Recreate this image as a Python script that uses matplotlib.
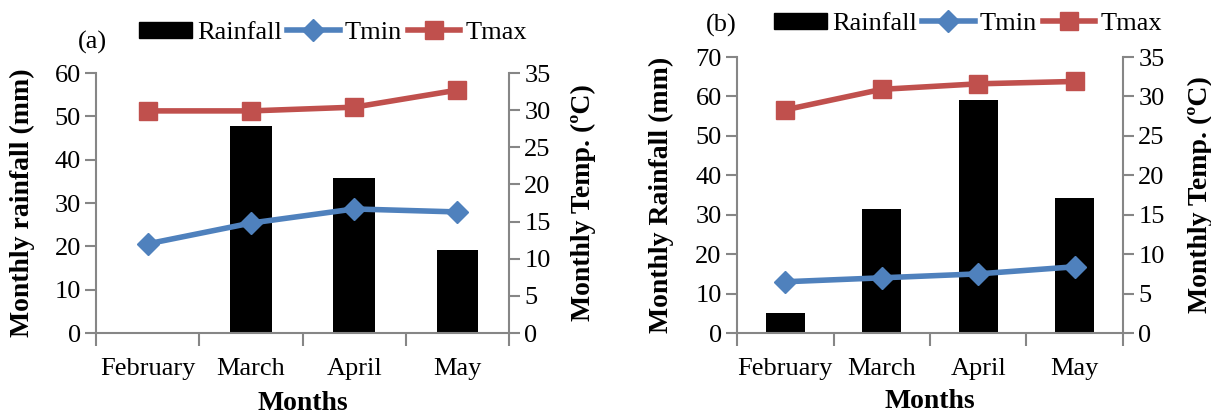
import matplotlib.pyplot as plt
import numpy as np
from matplotlib.lines import Line2D
from matplotlib.patches import Patch

plt.rcParams['font.family'] = 'Liberation Serif'

months = ["February", "March", "April", "May"]

# panel (a)
rain_a = [0, 47.7, 35.8, 19.1]
tmin_a = [12.0, 14.8, 16.7, 16.3]
tmax_a = [29.9, 29.9, 30.4, 32.7]

# panel (b)
rain_b = [5.2, 31.5, 59.0, 34.3]
tmin_b = [6.5, 7.0, 7.5, 8.4]
tmax_b = [28.3, 30.9, 31.6, 31.9]

GRAY = '#868686'
BLUE = '#4F81BD'
RED = '#C0504D'
FS = 19

fig = plt.figure(figsize=(12.11, 4.17), dpi=100)


def panel(rect, rain, tmin, tmax, rmax, ylab, tag, tagpos, legpos, ylabx, y2labx, xlaby):
    ax = fig.add_axes(rect)
    x = np.arange(len(months))
    ax.bar(x, rain, width=0.4, color='black', zorder=1)
    ax.set_xlim(-0.5, 3.5)
    ax.set_ylim(0, rmax)
    ax.set_yticks(np.arange(0, rmax + 1, 10))
    ax.set_xticks(x)
    ax.set_xticklabels(months, fontsize=FS)
    ax.set_xticks(np.arange(-0.5, 4, 1), minor=True)
    ax.tick_params(axis='x', which='major', length=0, pad=18)
    ax.tick_params(axis='x', which='minor', length=9, color=GRAY, width=1.5)
    ax.tick_params(axis='y', labelsize=FS, length=8, color=GRAY, width=1.5, pad=3)
    for s in ['top', 'right']:
        ax.spines[s].set_visible(False)
    for s in ['left', 'bottom']:
        ax.spines[s].set_color(GRAY)
        ax.spines[s].set_linewidth(1.5)

    ax2 = ax.twinx()
    ax2.plot(x, tmin, color=BLUE, lw=4, marker='D', ms=11, zorder=3)
    ax2.plot(x, tmax, color=RED, lw=4, marker='s', ms=13, zorder=3)
    ax2.set_ylim(0, 35)
    ax2.set_yticks(np.arange(0, 36, 5))
    ax2.tick_params(axis='y', labelsize=FS, length=8, color=GRAY, width=1.5, pad=3)
    for s in ['top', 'left', 'bottom']:
        ax2.spines[s].set_visible(False)
    ax2.spines['right'].set_color(GRAY)
    ax2.spines['right'].set_linewidth(1.5)

    fig.text(ylabx, 0.2014 + rect[3] / 2, ylab, rotation=90, fontsize=FS + 1,
             fontweight='bold', ha='center', va='center')
    fig.text(y2labx, 0.2014 + rect[3] / 2, "Monthly Temp. (ºC)", rotation=90,
             fontsize=FS + 1, fontweight='bold', ha='center', va='center')
    fig.text(rect[0] + rect[2] / 2, xlaby, "Months", fontsize=FS + 1,
             fontweight='bold', ha='center', va='center')
    fig.text(tagpos[0], tagpos[1], tag, fontsize=FS, ha='center', va='center')

    handles = [Patch(color='black'),
               Line2D([], [], color=BLUE, lw=4, marker='D', ms=11),
               Line2D([], [], color=RED, lw=4, marker='s', ms=13)]
    fig.legend(handles, ["Rainfall", "Tmin", "Tmax"], loc='center',
               bbox_to_anchor=legpos, ncol=3, frameon=False, fontsize=FS,
               handlelength=2.0, handleheight=0.6, handletextpad=0.2,
               columnspacing=0.2, borderpad=0)
    return ax, ax2


panel([0.0793, 0.2014, 0.341, 0.6235], rain_a, tmin_a, tmax_a, 60,
      "Monthly rainfall (mm)", "(a)", (92 / 1211, 1 - 42 / 417),
      (333 / 1211, 1 - 33 / 417), 22 / 1211, 583 / 1211, 1 - 403 / 417)
panel([0.6086, 0.2014, 0.3187, 0.6619], rain_b, tmin_b, tmax_b, 70,
      "Monthly Rainfall (mm)", "(b)", (721 / 1211, 1 - 25 / 417),
      (968 / 1211, 1 - 24 / 417), 661 / 1211, 1200 / 1211, 1 - 402 / 417)

fig.savefig('out.png', dpi=100)
